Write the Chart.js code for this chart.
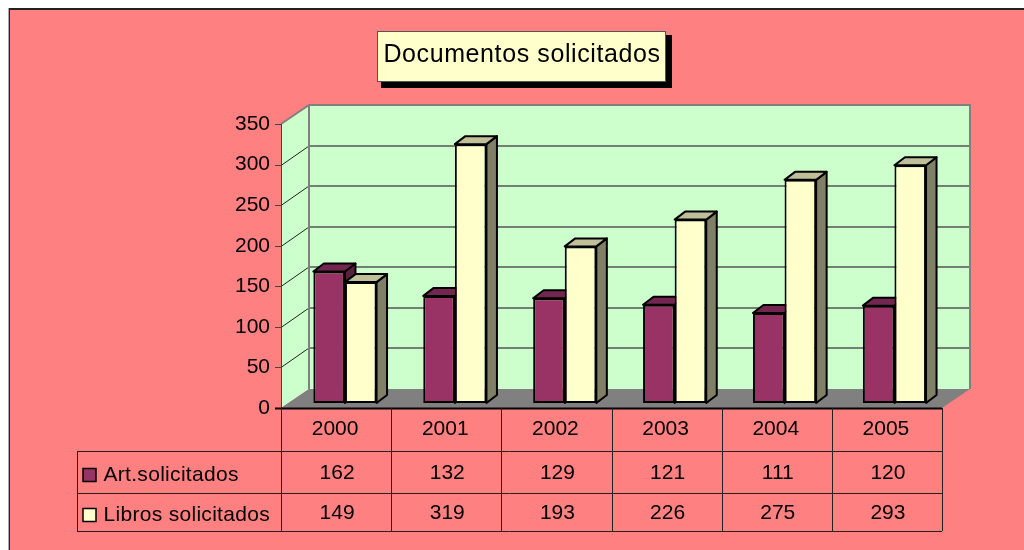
<!DOCTYPE html>
<html><head><meta charset="utf-8">
<style>html,body{margin:0;padding:0;background:#fff}canvas{display:block}</style>
<script src="https://cdn.jsdelivr.net/npm/chart.js@4"></script></head>
<body><div style="width:1024px;height:550px"><canvas id="c" width="1024" height="550"></canvas></div>
<script>
const chartTitle = "Documentos solicitados";
const categories = ["2000","2001","2002","2003","2004","2005"];
const seriesNames = ["Art.solicitados","Libros solicitados"];
const artValues = [162,132,129,121,111,120];
const libValues = [149,319,193,226,275,293];
const FONT = '"Liberation Sans", Arial, sans-serif';
const PAGE='#FF8080', WALL='#CCFFCC', FLOOR='#808080';
const faces = [{front:'#993366',top:'#732650',side:'#5C1F3D'},{front:'#FFFFCC',top:'#BFBF99',side:'#808066'}];

const box3d = {
  id:'box3d',
  beforeDatasetsDraw(chart){
    const g=chart.ctx, y=chart.scales.y, a=chart.chartArea;
    const L=a.left-9, R=a.right-7.4, fo=5, dx=28, dy=19;
    const fy=v=>y.getPixelForValue(v)+fo;
    g.save();
    g.fillStyle=PAGE; g.fillRect(9,9,1015,541);
    g.fillStyle='#AAA'; g.fillRect(8,8,1016,1); g.fillRect(8,8,1,542);
    g.fillStyle='#222'; g.fillRect(9,8,1015,2); g.fillRect(9,9,1,541);
    // title
    g.fillStyle='#000'; g.fillRect(381,35,291,53);
    g.fillStyle='#FFFFCC'; g.fillRect(377,31,288,50);
    g.strokeStyle='#555'; g.lineWidth=1; g.strokeRect(377.5,31.5,288,50);
    g.fillStyle='#000'; g.font='25px '+FONT; g.textAlign='center'; g.textBaseline='alphabetic';
    g.letterSpacing='0.6px';
    g.fillText(chartTitle,522,62);
    g.letterSpacing='0px';
    // walls
    const y0=fy(0), yT=fy(350);
    g.fillStyle=WALL;
    g.fillRect(L+dx,yT-dy,R-L,y0-yT);
    g.beginPath(); g.moveTo(L,y0); g.lineTo(L,yT); g.lineTo(L+dx,yT-dy); g.lineTo(L+dx,y0-dy); g.closePath(); g.fill();
    g.fillStyle=FLOOR;
    g.beginPath(); g.moveTo(L,y0); g.lineTo(L+dx,y0-dy); g.lineTo(R+dx,y0-dy); g.lineTo(R,y0); g.closePath(); g.fill();
    // grid
    y.ticks.forEach(t=>{
      const p=Math.round(fy(t.value));
      if(t.value>0&&t.value<350){
        g.strokeStyle='#555'; g.lineWidth=1.5;
        g.beginPath(); g.moveTo(L+dx,p-dy); g.lineTo(R+dx,p-dy); g.stroke();
      }
      g.strokeStyle='#222'; g.lineWidth=1;
      if(t.value<350&&t.value>0){g.beginPath(); g.moveTo(L,p+.5); g.lineTo(L+dx,p-dy); g.stroke();}
      g.strokeStyle='#444';
      g.beginPath(); g.moveTo(L-6,p+.5); g.lineTo(L,p+.5); g.stroke();
    });
    g.strokeStyle='#808080'; g.lineWidth=2;
    g.beginPath(); g.moveTo(L,yT); g.lineTo(L+dx,yT-dy); g.lineTo(R+dx,yT-dy); g.lineTo(R+dx,y0-dy); g.stroke();
    g.beginPath(); g.moveTo(L+dx,yT-dy); g.lineTo(L+dx,y0-dy); g.stroke();
    g.strokeStyle='#444'; g.lineWidth=1;
    g.beginPath(); g.moveTo(L+.5,yT); g.lineTo(L+.5,y0); g.stroke();
    // bars depth faces
    const bx=10.5, by=8;
    chart.data.datasets.forEach((d,i)=>{
      chart.getDatasetMeta(i).data.forEach(b=>{
        const l=b.x-b.width/2, r=b.x+b.width/2, t=b.y, m=b.base;
        g.lineWidth=2; g.strokeStyle='#000'; g.lineJoin='round';
        g.fillStyle=faces[i].side;
        g.beginPath(); g.moveTo(r,t); g.lineTo(r+bx,t-by); g.lineTo(r+bx,m-by); g.lineTo(r,m); g.closePath(); g.fill(); g.stroke();
        g.fillStyle=faces[i].top;
        g.beginPath(); g.moveTo(l,t); g.lineTo(l+bx,t-by); g.lineTo(r+bx,t-by); g.lineTo(r,t); g.closePath(); g.fill(); g.stroke();
      });
    });
    g.restore();
  },
  afterDraw(chart){
    const g=chart.ctx, a=chart.chartArea, y=chart.scales.y;
    const L=a.left-9, R=a.right-7.4, y0=Math.round(y.getPixelForValue(0)+5);
    const rows=[y0,451,493,531], tl=77, n=categories.length, cw=(R-L)/n;
    g.save();
    g.strokeStyle='#000'; g.lineWidth=2; g.beginPath(); g.moveTo(L-6,y0+.5); g.lineTo(R,y0+.5); g.stroke();
    g.strokeStyle='#222'; g.lineWidth=1;
    g.beginPath();
    for(let i=0;i<=n;i++){const p=Math.round(L+i*cw)+.5; g.moveTo(p,y0); g.lineTo(p,rows[3]);}
    g.moveTo(tl+.5,rows[1]); g.lineTo(tl+.5,rows[3]);
    rows.slice(1).forEach(r=>{g.moveTo(tl,r+.5); g.lineTo(R,r+.5);});
    g.stroke();
    g.fillStyle='#000'; g.font='21px '+FONT; g.textBaseline='alphabetic'; g.textAlign='center';
    categories.forEach((c,i)=>{
      const cx=L+(i+.5)*cw;
      g.fillText(c,cx-1,435);
      g.fillText(artValues[i],cx+1,479);
      g.fillText(libValues[i],cx+1,519);
    });
    g.textAlign='left';
    g.letterSpacing='0.3px';
    [[seriesNames[0],481,468.5,0],[seriesNames[1],521,508.5,1]].forEach(([s,yy,sy,i])=>{
      g.fillStyle='#000';
      g.fillText(s,103.5,yy);
      g.fillStyle=faces[i].front; g.fillRect(83,sy,13,13);
      g.strokeStyle='#000'; g.lineWidth=1.5; g.strokeRect(83,sy,13,13);
    });
    g.restore();
  }
};

new Chart(document.getElementById('c'),{
  type:'bar',
  data:{labels:categories,datasets:[
    {label:seriesNames[0],data:artValues,backgroundColor:faces[0].front,borderColor:'#000',borderWidth:2,borderSkipped:false},
    {label:seriesNames[1],data:libValues,backgroundColor:faces[1].front,borderColor:'#000',borderWidth:2,borderSkipped:false}
  ]},
  options:{
    responsive:false,animation:false,
    layout:{padding:{left:0,top:119,right:74.6,bottom:147}},
    plugins:{legend:{display:false},tooltip:{enabled:false},title:{display:false}},
    datasets:{bar:{categoryPercentage:0.575,barPercentage:1}},
    scales:{
      x:{display:false},
      y:{min:0,max:350,ticks:{stepSize:50,color:'#000',font:{family:FONT,size:21},padding:12,labelOffset:5,z:1},
         grid:{display:false},border:{display:false},afterFit(s){s.width=290;}}
    }
  },
  plugins:[box3d]
});
</script></body></html>
